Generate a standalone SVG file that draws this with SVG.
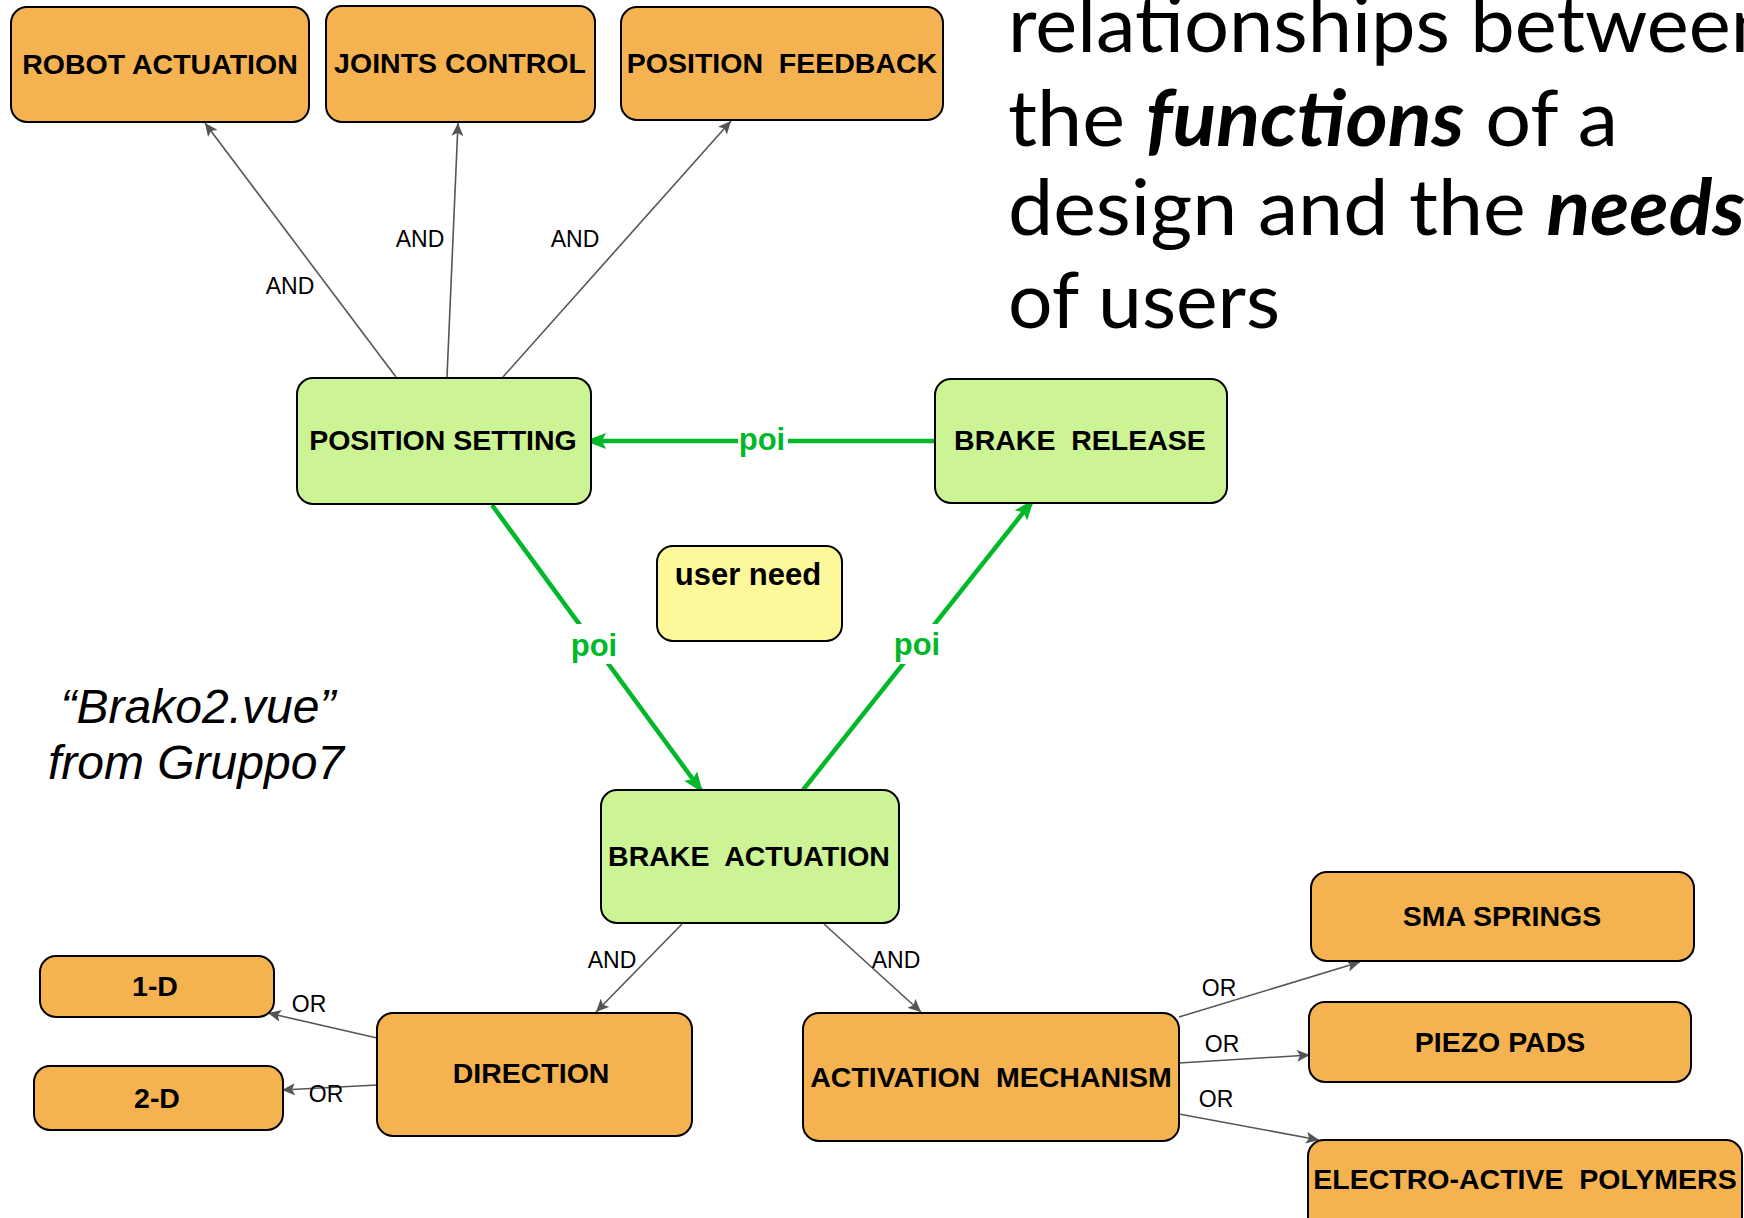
<svg xmlns="http://www.w3.org/2000/svg" width="1744" height="1218" viewBox="0 0 1744 1218">
<defs>
<style>
.box{stroke:#000;stroke-width:2}
.org{fill:#F4B350}
.grn{fill:#CCF495}
.yel{fill:#FDF99A}
.lbl{font-family:"Liberation Sans",Arial,sans-serif;font-weight:bold;font-size:28.5px;fill:#000;text-anchor:middle;white-space:pre}
.g{stroke:#555;stroke-width:1.6;fill:none}
.p{stroke:#00B828;stroke-width:4.5;fill:none}
.and{font-family:"Liberation Sans",Arial,sans-serif;font-size:23px;fill:#000;text-anchor:middle}
.poi{font-family:"Liberation Sans",Arial,sans-serif;font-weight:bold;font-size:31px;fill:#00B828;text-anchor:middle}
.title{font-family:Lato,"Open Sans",sans-serif;font-size:78px;fill:#000}
.note{font-family:"Liberation Sans",Arial,sans-serif;font-style:italic;font-size:48px;fill:#000;text-anchor:middle}
</style>
<marker id="ga" markerUnits="userSpaceOnUse" markerWidth="14" markerHeight="12" refX="13" refY="6" orient="auto">
<path d="M0,0 L13,6 L0,12 L3,6 z" fill="#555"/>
</marker>
<marker id="pa" markerUnits="userSpaceOnUse" markerWidth="22" markerHeight="16" refX="21" refY="8" orient="auto">
<path d="M0,0 L21,8 L0,16 L4,8 z" fill="#00B828"/>
</marker>
</defs>
<rect width="1744" height="1218" fill="#fff"/>

<g id="title">
<text class="title" x="1008" y="52" textLength="767" lengthAdjust="spacingAndGlyphs">relationships between</text>
<text class="title" x="1008" y="146" textLength="610" lengthAdjust="spacingAndGlyphs">the <tspan font-weight="bold" font-style="italic">functions</tspan> of a</text>
<text class="title" x="1008" y="235" textLength="737" lengthAdjust="spacingAndGlyphs">design and the <tspan font-weight="bold" font-style="italic">needs</tspan></text>
<text class="title" x="1008" y="328" textLength="272" lengthAdjust="spacingAndGlyphs">of users</text>
</g>

<g id="caption">
<text class="note" x="198" y="723">“Brako2.vue”</text>
<text class="note" x="196" y="779">from Gruppo7</text>
</g>

<g id="connectors">
<line class="g" x1="396" y1="377" x2="205" y2="123" marker-end="url(#ga)"/>
<line class="g" x1="447" y1="377" x2="458" y2="123" marker-end="url(#ga)"/>
<line class="g" x1="503" y1="377" x2="731" y2="121" marker-end="url(#ga)"/>
<line class="g" x1="682" y1="924" x2="596" y2="1012" marker-end="url(#ga)"/>
<line class="g" x1="824" y1="924" x2="921" y2="1012" marker-end="url(#ga)"/>
<line class="g" x1="377" y1="1038" x2="268" y2="1013" marker-end="url(#ga)"/>
<line class="g" x1="377" y1="1085" x2="282" y2="1090" marker-end="url(#ga)"/>
<line class="g" x1="1179" y1="1017" x2="1360" y2="962" marker-end="url(#ga)"/>
<line class="g" x1="1179" y1="1063" x2="1310" y2="1055" marker-end="url(#ga)"/>
<line class="g" x1="1179" y1="1114" x2="1319" y2="1140" marker-end="url(#ga)"/>
<text class="and" x="290" y="294">AND</text>
<text class="and" x="420" y="247">AND</text>
<text class="and" x="575" y="247">AND</text>
<text class="and" x="612" y="968">AND</text>
<text class="and" x="896" y="968">AND</text>
<text class="and" x="309" y="1012">OR</text>
<text class="and" x="326" y="1102">OR</text>
<text class="and" x="1219" y="996">OR</text>
<text class="and" x="1222" y="1052">OR</text>
<text class="and" x="1216" y="1107">OR</text>

<line class="p" x1="935" y1="441" x2="585" y2="441" marker-end="url(#pa)"/>
<line class="p" x1="492" y1="505" x2="703" y2="793" marker-end="url(#pa)"/>
<line class="p" x1="803" y1="790" x2="1034" y2="499" marker-end="url(#pa)"/>
<rect x="738" y="424" width="50" height="34" fill="#fff"/>
<rect x="570" y="624" width="48" height="40" fill="#fff"/>
<rect x="893" y="624" width="48" height="40" fill="#fff"/>
<text class="poi" x="762" y="450">poi</text>
<text class="poi" x="594" y="656">poi</text>
<text class="poi" x="917" y="655">poi</text>
</g>

<g id="robot-actuation"><rect class="box org" x="11" y="7" width="298" height="115" rx="16"/><text class="lbl" x="160" y="74">ROBOT ACTUATION</text></g>
<g id="joints-control"><rect class="box org" x="326" y="6" width="269" height="116" rx="16"/><text class="lbl" x="460" y="73">JOINTS CONTROL</text></g>
<g id="position-feedback"><rect class="box org" x="621" y="7" width="322" height="113" rx="16"/><text class="lbl" x="782" y="73">POSITION  FEEDBACK</text></g>
<g id="position-setting"><rect class="box grn" x="297" y="378" width="294" height="126" rx="16"/><text class="lbl" x="443" y="450">POSITION SETTING</text></g>
<g id="brake-release"><rect class="box grn" x="935" y="379" width="292" height="124" rx="16"/><text class="lbl" x="1080" y="450">BRAKE  RELEASE</text></g>
<g id="user-need"><rect class="box yel" x="657" y="546" width="185" height="95" rx="16"/><text class="lbl" x="748" y="585" style="font-size:31px">user need</text></g>
<g id="brake-actuation"><rect class="box grn" x="601" y="790" width="298" height="133" rx="16"/><text class="lbl" x="749" y="866">BRAKE  ACTUATION</text></g>
<g id="one-d"><rect class="box org" x="40" y="956" width="234" height="61" rx="16"/><text class="lbl" x="155" y="996">1-D</text></g>
<g id="two-d"><rect class="box org" x="34" y="1066" width="249" height="64" rx="16"/><text class="lbl" x="157" y="1108">2-D</text></g>
<g id="direction"><rect class="box org" x="377" y="1013" width="315" height="123" rx="16"/><text class="lbl" x="531" y="1083">DIRECTION</text></g>
<g id="activation-mechanism"><rect class="box org" x="803" y="1013" width="376" height="128" rx="16"/><text class="lbl" x="991" y="1087">ACTIVATION  MECHANISM</text></g>
<g id="sma-springs"><rect class="box org" x="1311" y="872" width="383" height="89" rx="16"/><text class="lbl" x="1502" y="926">SMA SPRINGS</text></g>
<g id="piezo-pads"><rect class="box org" x="1309" y="1002" width="382" height="80" rx="16"/><text class="lbl" x="1500" y="1052">PIEZO PADS</text></g>
<g id="electro-active-polymers"><rect class="box org" x="1308" y="1140" width="434" height="100" rx="16"/><text class="lbl" x="1525" y="1189">ELECTRO-ACTIVE  POLYMERS</text></g>
</svg>
